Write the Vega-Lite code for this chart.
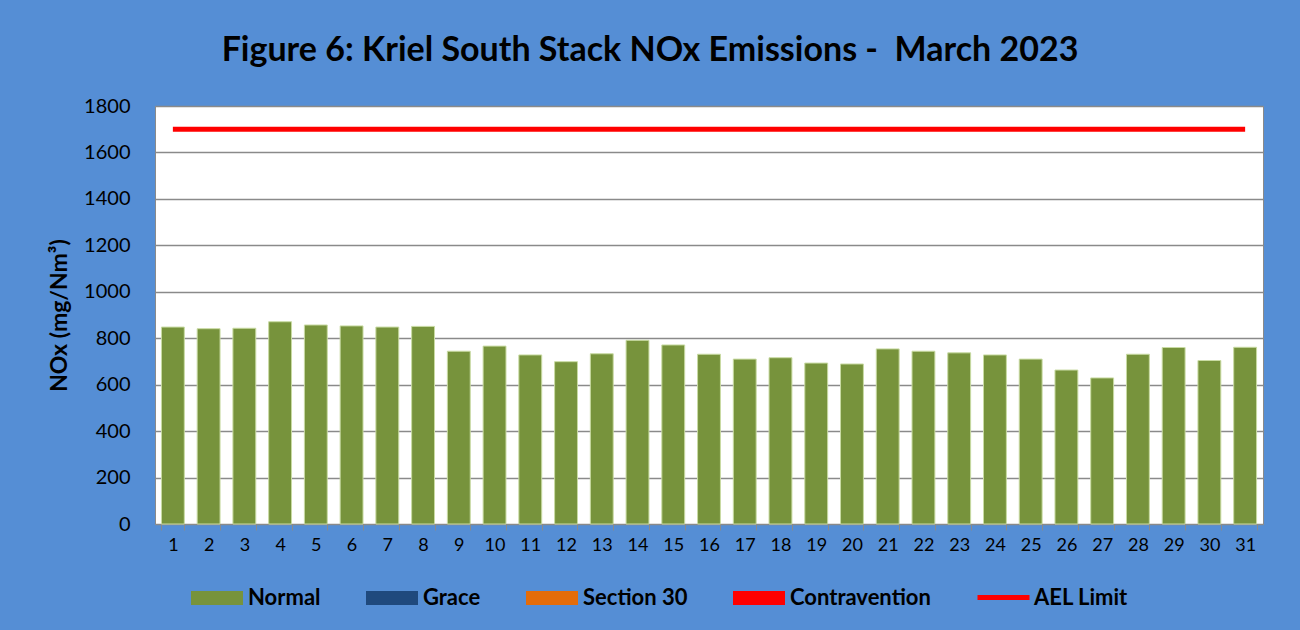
{
  "$schema": "https://vega.github.io/schema/vega-lite/v6.json",
  "width": 1108,
  "height": 418,
  "autosize": {"type": "none"},
  "padding": {"left": 155, "top": 106, "right": 37, "bottom": 106},
  "background": "#558ED5",
  "config": {
    "font": "Lato",
    "view": {"fill": "white", "stroke": "#8a8a8a", "strokeWidth": 1}
  },
  "title": {
    "text": "Figure 6: Kriel South Stack NOx Emissions -\u00a0 March 2023",
    "fontSize": 34,
    "fontWeight": "bold",
    "color": "black",
    "anchor": "middle",
    "frame": "group",
    "dx": -59,
    "offset": 28
  },
  "data": {
    "values": [
      {"day": 1, "nox": 848, "status": "Normal", "limit": 1700},
      {"day": 2, "nox": 841, "status": "Normal", "limit": 1700},
      {"day": 3, "nox": 843, "status": "Normal", "limit": 1700},
      {"day": 4, "nox": 871, "status": "Normal", "limit": 1700},
      {"day": 5, "nox": 857, "status": "Normal", "limit": 1700},
      {"day": 6, "nox": 853, "status": "Normal", "limit": 1700},
      {"day": 7, "nox": 848, "status": "Normal", "limit": 1700},
      {"day": 8, "nox": 851, "status": "Normal", "limit": 1700},
      {"day": 9, "nox": 744, "status": "Normal", "limit": 1700},
      {"day": 10, "nox": 766, "status": "Normal", "limit": 1700},
      {"day": 11, "nox": 728, "status": "Normal", "limit": 1700},
      {"day": 12, "nox": 699, "status": "Normal", "limit": 1700},
      {"day": 13, "nox": 733, "status": "Normal", "limit": 1700},
      {"day": 14, "nox": 791, "status": "Normal", "limit": 1700},
      {"day": 15, "nox": 771, "status": "Normal", "limit": 1700},
      {"day": 16, "nox": 731, "status": "Normal", "limit": 1700},
      {"day": 17, "nox": 710, "status": "Normal", "limit": 1700},
      {"day": 18, "nox": 716, "status": "Normal", "limit": 1700},
      {"day": 19, "nox": 693, "status": "Normal", "limit": 1700},
      {"day": 20, "nox": 689, "status": "Normal", "limit": 1700},
      {"day": 21, "nox": 754, "status": "Normal", "limit": 1700},
      {"day": 22, "nox": 744, "status": "Normal", "limit": 1700},
      {"day": 23, "nox": 737, "status": "Normal", "limit": 1700},
      {"day": 24, "nox": 728, "status": "Normal", "limit": 1700},
      {"day": 25, "nox": 710, "status": "Normal", "limit": 1700},
      {"day": 26, "nox": 663, "status": "Normal", "limit": 1700},
      {"day": 27, "nox": 629, "status": "Normal", "limit": 1700},
      {"day": 28, "nox": 731, "status": "Normal", "limit": 1700},
      {"day": 29, "nox": 760, "status": "Normal", "limit": 1700},
      {"day": 30, "nox": 704, "status": "Normal", "limit": 1700},
      {"day": 31, "nox": 761, "status": "Normal", "limit": 1700}
    ]
  },
  "layer": [
    {
      "mark": {"type": "bar", "stroke": "#C9DBA3", "strokeWidth": 1},
      "encoding": {
        "x": {
          "field": "day",
          "type": "ordinal",
          "scale": {"paddingInner": 0.36, "paddingOuter": 0.18},
          "axis": {
            "title": null,
            "labelAngle": 0,
            "labelFontSize": 18,
            "labelColor": "black",
            "domain": false,
            "ticks": true,
            "tickBand": "extent",
            "tickColor": "#8a8a8a",
            "tickSize": 6,
            "labelPadding": 6,
            "grid": false
          }
        },
        "y": {
          "field": "nox",
          "type": "quantitative",
          "scale": {"domain": [0, 1800]},
          "axis": {
            "title": "NOx (mg/Nm³)",
            "titleFontSize": 23,
            "titleFontWeight": "bold",
            "titleColor": "black",
            "titlePadding": 12,
            "format": "d",
            "values": [0, 200, 400, 600, 800, 1000, 1200, 1400, 1600, 1800],
            "labelFontSize": 20,
            "labelColor": "black",
            "ticks": false,
            "domain": false,
            "labelPadding": 25,
            "gridColor": "#8a8a8a",
            "gridWidth": 1.5
          }
        },
        "color": {
          "field": "status",
          "type": "nominal",
          "scale": {
            "domain": ["Normal", "Grace", "Section 30", "Contravention"],
            "range": ["#77933C", "#1F497D", "#E46C0A", "#FF0000"]
          },
          "legend": {
            "orient": "none",
            "legendX": 36,
            "legendY": 466,
            "direction": "horizontal",
            "columns": 4,
            "title": null,
            "labelFontSize": 22,
            "labelFontWeight": "bold",
            "labelColor": "black",
            "labelOffset": 5,
            "columnPadding": 45,
            "symbolSize": 2704,
            "symbolStrokeWidth": 0,
            "symbolOpacity": 1,
            "symbolType": "M-1,-0.27L1,-0.27L1,0.27L-1,0.27Z"
          }
        }
      }
    },
    {
      "mark": {"type": "line", "strokeWidth": 5},
      "encoding": {
        "x": {"field": "day", "type": "ordinal"},
        "y": {"field": "limit", "type": "quantitative"},
        "stroke": {
          "datum": "AEL Limit",
          "type": "nominal",
          "scale": {"domain": ["AEL Limit"], "range": ["#FF0000"]},
          "legend": {
            "orient": "none",
            "legendX": 820,
            "legendY": 463,
            "direction": "horizontal",
            "title": null,
            "labelFontSize": 22,
            "labelFontWeight": "bold",
            "labelColor": "black",
            "labelOffset": 2,
            "symbolType": "stroke",
            "symbolSize": 2704,
            "symbolStrokeWidth": 5,
            "symbolOpacity": 1
          }
        }
      }
    }
  ]
}
